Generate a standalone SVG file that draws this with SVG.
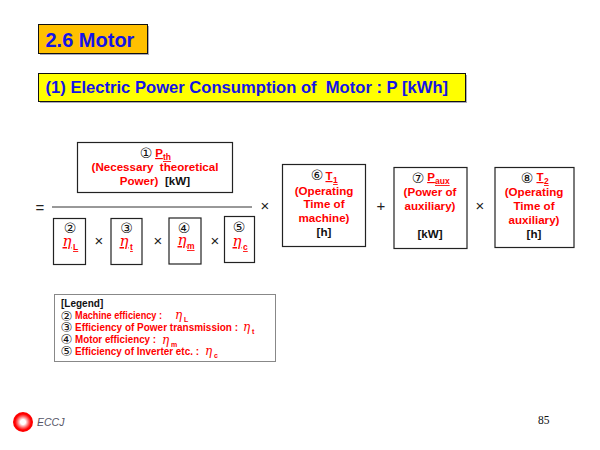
<svg xmlns="http://www.w3.org/2000/svg" width="600" height="450" viewBox="0 0 600 450">
<defs>
<radialGradient id="lg" cx="0.5" cy="0.5" r="0.5"><stop offset="0" stop-color="#fff"/><stop offset="0.25" stop-color="#fff"/><stop offset="0.6" stop-color="#f55"/><stop offset="0.8" stop-color="#f00"/><stop offset="1" stop-color="#f00"/></radialGradient>
</defs>
<style>
text{font-family:"Liberation Sans",Arial,sans-serif;font-weight:bold}
.b{fill:#fff;stroke:#222;stroke-width:1.200}
.r{fill:#f00;font-size:11.600px;text-anchor:middle}
.k{fill:#111;font-size:11.600px;text-anchor:middle}
.c{font-family:"DejaVu Sans",sans-serif;font-weight:normal;fill:#111;font-size:14px;text-anchor:middle}
.e{font-family:"DejaVu Serif",serif;font-style:italic;font-weight:normal;fill:#f00;font-size:15px;text-anchor:middle;text-decoration:underline}
.s{fill:#f00;font-size:8.500px;text-decoration:underline}
.o{font-weight:normal;font-size:15px;fill:#222;text-anchor:middle}
.l{fill:#f00;font-size:10px}
.ld{font-family:"DejaVu Sans",sans-serif;fill:#111;font-size:13.500px;font-weight:normal}
.le{font-family:"DejaVu Serif",serif;font-style:italic;font-weight:normal;fill:#f00;font-size:12px}
.ls{fill:#f00;font-size:7px}
</style>
<rect width="600" height="450" fill="#fff"/>
<g id="title"><rect x="40" y="26" width="109" height="29" fill="#aab"/><rect x="38.500" y="24.500" width="109" height="29" fill="#ffc000" stroke="#111" stroke-width="1"/><text x="45.500" y="47" font-size="20" fill="#1414e6">2.6 Motor</text></g>
<g id="subtitle"><rect x="40" y="75" width="427" height="28" fill="#aab"/><rect x="38.500" y="73.500" width="427" height="28" fill="#ff0" stroke="#111" stroke-width="1"/><text x="45.500" y="93" font-size="16.600" fill="#1414e6" xml:space="preserve">(1) Electric Power Consumption of  Motor : P [kWh]</text></g>
<g id="connectors">
<line x1="52" y1="207" x2="252" y2="207" stroke="#333" stroke-width="1"/>
<text x="40" y="213" class="o">=</text>
<text x="265" y="211" class="o">×</text><text x="99" y="246" class="o">×</text><text x="158" y="246" class="o">×</text><text x="215" y="246" class="o">×</text>
<text x="381" y="211" class="o">+</text><text x="480" y="211" class="o">×</text>
</g>
<g id="n1"><rect class="b" x="77.500" y="142.500" width="155" height="50"/>
<text x="146" y="158" class="c">①</text><text x="159" y="157" class="r" style="text-decoration:underline">P</text><text x="163" y="160" class="s">th</text>
<text x="155" y="171" class="r" xml:space="preserve">(Necessary  theoretical</text>
<text x="139" y="185" class="r">Power)</text><text x="177.500" y="185" class="k">[kW]</text></g>
<g id="n2"><rect class="b" x="53.500" y="218.500" width="32" height="46"/><text x="70" y="233" class="c">②</text><text x="67" y="246" class="e">η</text><text x="73" y="250" class="s">L</text></g>
<g id="n3"><rect class="b" x="111" y="218.500" width="31" height="46"/><text x="126.500" y="233" class="c">③</text><text x="124" y="246" class="e">η</text><text x="130" y="250" class="s">t</text></g>
<g id="n4"><rect class="b" x="169" y="218" width="32" height="46"/><text x="184" y="233" class="c">④</text><text x="182" y="245" class="e">η</text><text x="187" y="249" class="s">m</text></g>
<g id="n5"><rect class="b" x="224.500" y="216.500" width="30" height="46"/><text x="239" y="232" class="c">⑤</text><text x="237" y="246" class="e">η</text><text x="243" y="250" class="s">c</text></g>
<g id="n6"><rect class="b" x="282.500" y="164.500" width="83" height="82"/><text x="317" y="180" class="c">⑥</text><text x="329" y="180" class="r" style="text-decoration:underline">T</text><text x="333" y="183" class="s">1</text>
<text x="324" y="195" class="r">(Operating</text><text x="324" y="208" class="r">Time of</text><text x="324" y="222" class="r">machine)</text><text x="324" y="236" class="k">[h]</text></g>
<g id="n7"><rect class="b" x="394" y="167.500" width="73" height="81"/><text x="418" y="183" class="c">⑦</text><text x="431" y="181" class="r" style="text-decoration:underline">P</text><text x="435" y="184" class="s">aux</text>
<text x="430" y="196" class="r">(Power of</text><text x="430" y="210" class="r">auxiliary)</text><text x="430" y="238" class="k">[kW]</text></g>
<g id="n8"><rect class="b" x="495" y="167.500" width="79" height="80"/><text x="527" y="183" class="c">⑧</text><text x="540" y="181" class="r" style="text-decoration:underline">T</text><text x="544" y="184" class="s">2</text>
<text x="534" y="196" class="r">(Operating</text><text x="534" y="210" class="r">Time of</text><text x="534" y="224" class="r">auxiliary)</text><text x="534" y="238" class="k">[h]</text></g>
<g id="legend"><rect x="54.500" y="294.500" width="221" height="67" fill="#fff" stroke="#888" stroke-width="1"/>
<text x="61" y="307" font-size="10" fill="#111">[Legend]</text>
<text x="60.500" y="320.500" class="ld">②</text><text x="75" y="319" class="l" textLength="87" lengthAdjust="spacingAndGlyphs">Machine efficiency :</text><text x="175" y="319" class="le">η</text><text x="184" y="322" class="ls">L</text>
<text x="60.500" y="332" class="ld">③</text><text x="75" y="331" class="l" textLength="163" lengthAdjust="spacingAndGlyphs">Efficiency of Power transmission :</text><text x="243" y="331" class="le">η</text><text x="252" y="334" class="ls">t</text>
<text x="60.500" y="344" class="ld">④</text><text x="75" y="343" class="l" textLength="81" lengthAdjust="spacingAndGlyphs">Motor efficiency :</text><text x="162" y="344" class="le">η</text><text x="171" y="347" class="ls">m</text>
<text x="60.500" y="356" class="ld">⑤</text><text x="75" y="354.500" class="l" textLength="124" lengthAdjust="spacingAndGlyphs">Efficiency of Inverter etc. :</text><text x="205" y="355" class="le">η</text><text x="214" y="358" class="ls">c</text></g>
<g id="logo"><circle cx="23" cy="422" r="10" fill="url(#lg)"/><text x="37" y="426" font-size="10.500" fill="#556" style="font-style:italic;font-weight:normal">ECCJ</text></g>
<text id="page" x="538" y="424" font-size="11.500" fill="#111" style="font-family:'Liberation Serif',serif;font-weight:normal">85</text>
</svg>
